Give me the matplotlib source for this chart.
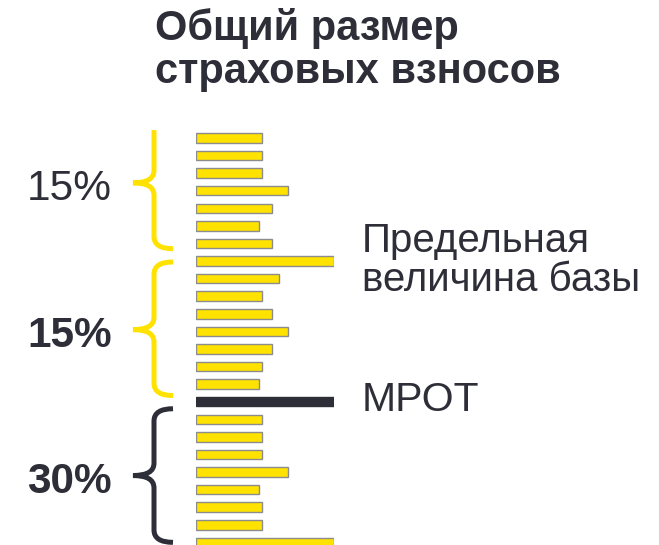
import numpy as np
import matplotlib.pyplot as plt
from matplotlib.path import Path
from matplotlib.patches import PathPatch

plt.rcParams['font.family'] = ['Liberation Sans', 'DejaVu Sans']

# длины полос (условные единицы), сверху вниз
levels = [48, 48, 48, 67, 55, 46, 55, 100,
          60, 48, 55, 67, 55, 48, 46,
          100,
          48, 48, 48, 67, 46, 48, 48, 100]
mrot_row = 15
# начало, конец и острие скобки (в строках), подпись
groups = [(-0.45, 6.3, 2.55, '15%', 'normal', '#FFE200'),
          (7.05, 14.65, 10.9, '15%', 'bold', '#FFE200'),
          (15.4, 23.0, 19.2, '30%', 'bold', '#2E2E38')]
title_lines = ['Общий размер', 'страховых взносов']
base_lines = ['Предельная', 'величина базы']
label_mrot = 'МРОТ'

yellow = '#FFE200'
dark = '#2E2E38'
W, H = 659, 545


def px(x, y):
    return x / W, 1 - y / H


fig = plt.figure(figsize=(W / 100, H / 100), dpi=100)
row_px = 17.58
top_px = 138 - 0.5 * row_px
ax = fig.add_axes([196 / W, 0, 138 / W, (H - top_px) / H])

rows = np.arange(len(levels))
colors = [dark if i == mrot_row else yellow for i in rows]
edges = [dark if i == mrot_row else '#8C8C8C' for i in rows]
ax.barh(rows, levels, height=0.54, color=colors, edgecolor=edges, linewidth=1.0)
ax.set_xlim(0, 100)
ax.set_ylim((H - top_px) / row_px - 0.5, -0.5)
ax.axis('off')

# фигурные скобки: x в долях оси, y в строках
tr = ax.get_yaxis_transform()
xv, xt, xe = (154 - 196) / 138, (133 - 196) / 138, (173 - 196) / 138
r = 0.7
for y0, y1, ym, txt, wt, col in groups:
    verts = []
    codes = []
    if y0 < 0:
        verts += [(xv, y0)]
        codes += [Path.MOVETO]
    else:
        verts += [(xe, y0), (xv, y0), (xv, y0 + r)]
        codes += [Path.MOVETO, Path.CURVE3, Path.CURVE3]
    verts += [(xv, ym - r), (xv, ym), (xt, ym), (xv, ym), (xv, ym + r),
              (xv, y1 - r), (xv, y1), (xe, y1)]
    codes += [Path.LINETO, Path.CURVE3, Path.CURVE3, Path.CURVE3, Path.CURVE3,
              Path.LINETO, Path.CURVE3, Path.CURVE3]
    ax.add_patch(PathPatch(Path(verts, codes), fill=False, edgecolor=col,
                           linewidth=3.6, transform=tr, clip_on=False,
                           capstyle='butt'))
    ax.text((112 - 196) / 138, ym + 1.0, txt, transform=tr, ha='right',
            va='baseline', fontsize=30.5, fontweight=wt, color=dark)

for line, yb in zip(title_lines, [40, 83]):
    fig.text(*px(155, yb), line, ha='left', va='baseline', fontsize=30,
             fontweight='bold', color=dark)
for line, yb in zip(base_lines, [252, 291]):
    fig.text(*px(362, yb), line, ha='left', va='baseline', fontsize=29,
             color=dark)
fig.text(*px(362, 411), label_mrot, ha='left', va='baseline', fontsize=29.5,
         color=dark)

fig.savefig('out.png', dpi=100)
